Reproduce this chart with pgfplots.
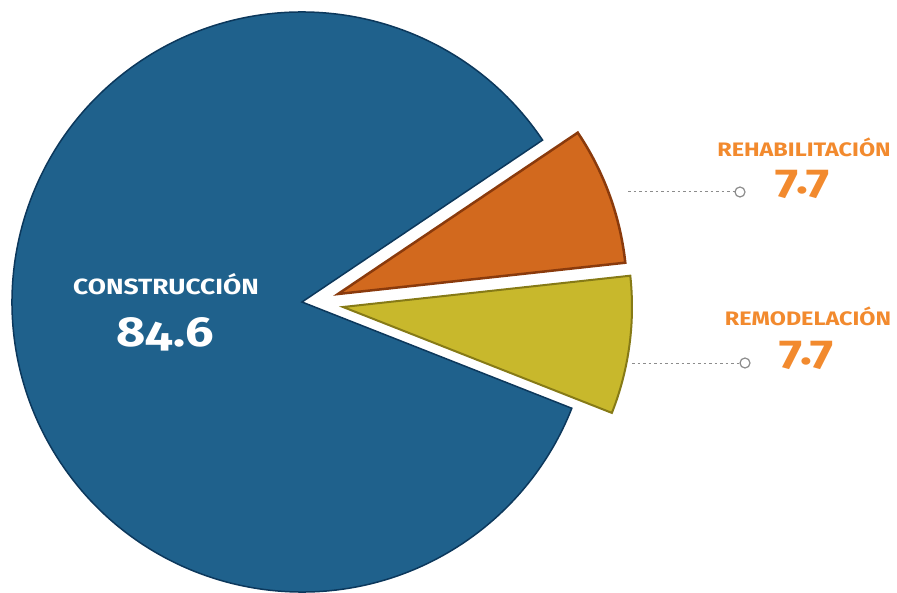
\documentclass[border=0pt]{standalone}
\usepackage{fontspec}
\setmainfont{Fira Sans}[Numbers=OldStyle,BoldFeatures={FakeStretch=1.2}]
\usepackage{pgfplots}
\usepackage{pgfplotstable}
\pgfplotsset{compat=1.18}
\definecolor{cblue}{RGB}{31,97,140}
\definecolor{cblueedge}{RGB}{12,56,92}
\definecolor{corange}{RGB}{210,105,30}
\definecolor{corangeedge}{RGB}{138,58,12}
\definecolor{cyellow}{RGB}{200,184,44}
\definecolor{cyellowedge}{RGB}{134,122,22}
\definecolor{ctext}{RGB}{242,138,46}
\definecolor{cgray}{RGB}{140,140,140}
\pgfplotstableread{
label value cx cy
Remodelacion 7.7 343 307
Rehabilitacion 7.7 338 294
Construccion 84.6 302 302
}\piedata
\begin{document}
\begin{tikzpicture}
\pgfplotstablegetelem{0}{value}\of\piedata \let\vA\pgfplotsretval
\pgfplotstablegetelem{1}{value}\of\piedata \let\vB\pgfplotsretval
\pgfplotstablegetelem{2}{value}\of\piedata \let\vC\pgfplotsretval
\pgfplotstablegetelem{0}{cx}\of\piedata \let\xA\pgfplotsretval
\pgfplotstablegetelem{0}{cy}\of\piedata \let\yA\pgfplotsretval
\pgfplotstablegetelem{1}{cx}\of\piedata \let\xB\pgfplotsretval
\pgfplotstablegetelem{1}{cy}\of\piedata \let\yB\pgfplotsretval
\pgfplotstablegetelem{2}{cx}\of\piedata \let\xC\pgfplotsretval
\pgfplotstablegetelem{2}{cy}\of\piedata \let\yC\pgfplotsretval
\pgfmathsetmacro\sA{-21.5}
\pgfmathsetmacro\eA{\sA+3.6*\vA}
\pgfmathsetmacro\eB{\eA+3.6*\vB}
\pgfmathsetmacro\eC{\eB+3.6*\vC}
\begin{axis}[width=897pt,height=593pt,scale only axis,
  xmin=0,xmax=897,ymin=0,ymax=593,y dir=reverse,
  hide axis,clip=false]
\coordinate (BL) at (axis cs:0,593);
\coordinate (TR) at (axis cs:897,0);
% Construccion
\filldraw[fill=cblue,draw=cblueedge,line width=1.5pt,line join=miter]
  (axis cs:\xC,\yC) -- ++(\eB:290pt) arc[start angle=\eB,end angle=\eC,radius=290pt] -- cycle;
% Rehabilitacion
\filldraw[fill=corange,draw=corangeedge,line width=2.5pt,line join=miter]
  (axis cs:\xB,\yB) -- ++(\eA:289pt) arc[start angle=\eA,end angle=\eB,radius=289pt] -- cycle;
% Remodelacion
\filldraw[fill=cyellow,draw=cyellowedge,line width=2pt,line join=miter]
  (axis cs:\xA,\yA) -- ++(\sA:289pt) arc[start angle=\sA,end angle=\eA,radius=289pt] -- cycle;
% labels
\node[anchor=base,text=white,font=\bfseries\fontsize{22}{26}\selectfont] at (axis cs:166,295) {CONSTRUCCIÓN};
\node[anchor=base,text=white,font=\bfseries\fontsize{42}{48}\selectfont] at (axis cs:165,347) {\vC};
\node[anchor=base,text=ctext,font=\bfseries\fontsize{19.5}{23}\selectfont] at (axis cs:804,157) {REHABILITACIÓN};
\node[anchor=base,text=ctext,font=\bfseries\fontsize{41}{46}\selectfont] at (axis cs:803,194) {\vB};
\node[anchor=base,text=ctext,font=\bfseries\fontsize{19.5}{23}\selectfont] at (axis cs:808,326) {REMODELACIÓN};
\node[anchor=base,text=ctext,font=\bfseries\fontsize{41}{46}\selectfont] at (axis cs:807,364) {\vA};
% leaders
\draw[cgray,line width=1pt,dash pattern=on 2.5pt off 3pt] (axis cs:628,192) -- (axis cs:735,192);
\draw[cgray,line width=1.2pt,fill=white] (axis cs:740,192) circle[radius=5pt];
\draw[cgray,line width=1pt,dash pattern=on 2.5pt off 3pt] (axis cs:632,363) -- (axis cs:740,363);
\draw[cgray,line width=1.2pt,fill=white] (axis cs:745,363) circle[radius=5pt];
\end{axis}
\pgfresetboundingbox
\path[use as bounding box] (BL) rectangle (TR);
\end{tikzpicture}
\end{document}
